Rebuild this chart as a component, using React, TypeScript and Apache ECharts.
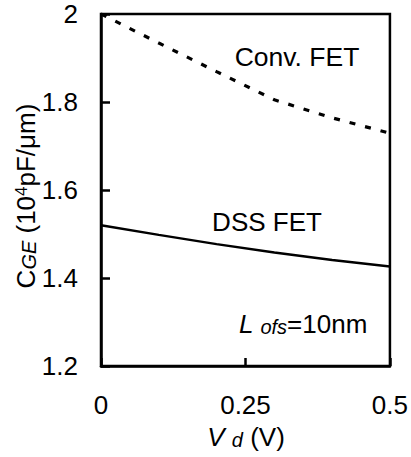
import React, { useEffect, useRef } from "react";
import * as echarts from "echarts";

const vd = [0, 0.1, 0.2, 0.3, 0.4, 0.5];
const convFet = [2.0, 1.934, 1.869, 1.805, 1.764, 1.729];
const dssFet = [1.52, 1.498, 1.477, 1.458, 1.441, 1.426];
const xTicks = [0, 0.25, 0.5];
const yTicks = [1.2, 1.4, 1.6, 1.8, 2];

const FONT = "'Liberation Sans', Arial, Helvetica, sans-serif";

export default function App() {
  const ref = useRef<HTMLDivElement>(null);
  useEffect(() => {
    if (!ref.current) return;
    const chart = echarts.init(ref.current, undefined, { renderer: "svg" });
    const fmt = (v: number) => String(v);
    chart.setOption({
      animation: false,
      backgroundColor: "#fff",
      textStyle: { fontFamily: FONT },
      grid: {
        left: 101,
        top: 14,
        width: 291,
        height: 352,
        show: true,
        borderColor: "#000",
        borderWidth: 2.5,
        backgroundColor: "transparent",
      },
      xAxis: {
        type: "value",
        min: 0,
        max: 0.5,
        interval: 0.25,
        axisLine: { show: true, onZero: false, lineStyle: { color: "#000", width: 2.5 } },
        axisTick: { show: true, inside: true, length: 8, lineStyle: { color: "#000", width: 2.5 } },
        splitLine: { show: false },
        axisLabel: {
          color: "#000",
          fontSize: 26,
          fontFamily: FONT,
          margin: 26,
          formatter: (v: number) => (xTicks.includes(v) ? fmt(v) : ""),
        },
      },
      yAxis: {
        type: "value",
        min: 1.2,
        max: 2,
        interval: 0.2,
        axisLine: { show: true, lineStyle: { color: "#000", width: 2.5 } },
        axisTick: { show: true, inside: true, length: 9, lineStyle: { color: "#000", width: 2.5 } },
        splitLine: { show: false },
        axisLabel: {
          color: "#000",
          fontSize: 26,
          fontFamily: FONT,
          margin: 23,
          formatter: (v: number) => {
            const t = yTicks.find((y) => Math.abs(y - v) < 1e-6);
            return t === undefined ? "" : fmt(t);
          },
        },
      },
      series: [
        {
          name: "Conv. FET",
          type: "line",
          data: vd.map((x, i) => [x, convFet[i]]),
          showSymbol: false,
          lineStyle: { color: "#000", width: 3.2, type: [6, 10], cap: "butt" },
        },
        {
          name: "DSS FET",
          type: "line",
          data: vd.map((x, i) => [x, dssFet[i]]),
          showSymbol: false,
          lineStyle: { color: "#000", width: 2.5, type: "solid" },
        },
      ],
      graphic: [
        {
          type: "text",
          x: 297,
          y: 57,
          style: {
            text: "Conv. FET",
            fill: "#000",
            font: `26.5px ${FONT}`,
            align: "center",
            verticalAlign: "middle",
          },
        },
        {
          type: "text",
          x: 267,
          y: 222,
          style: {
            text: "DSS FET",
            fill: "#000",
            font: `26px ${FONT}`,
            align: "center",
            verticalAlign: "middle",
          },
        },
        {
          type: "text",
          x: 303,
          y: 324,
          style: {
            text: "{l|L }{s|ofs}{n|=10nm}",
            align: "center",
            verticalAlign: "middle",
            rich: {
              l: { fontSize: 26, fontStyle: "italic", fontFamily: FONT, fill: "#000", lineHeight: 26, verticalAlign: "bottom" },
              s: { fontSize: 20, fontStyle: "italic", fontFamily: FONT, fill: "#000", lineHeight: 20, verticalAlign: "bottom" },
              n: { fontSize: 26, fontFamily: FONT, fill: "#000", lineHeight: 26, verticalAlign: "bottom" },
            },
          },
        },
        {
          type: "text",
          x: 246,
          y: 437,
          style: {
            text: "{l|V }{s|d}{n| (V)}",
            align: "center",
            verticalAlign: "middle",
            rich: {
              l: { fontSize: 26, fontStyle: "italic", fontFamily: FONT, fill: "#000", lineHeight: 26, verticalAlign: "bottom" },
              s: { fontSize: 20, fontStyle: "italic", fontFamily: FONT, fill: "#000", lineHeight: 20, verticalAlign: "bottom" },
              n: { fontSize: 26, fontFamily: FONT, fill: "#000", lineHeight: 26, verticalAlign: "bottom" },
            },
          },
        },
        {
          type: "text",
          x: 26,
          y: 196,
          rotation: Math.PI / 2,
          style: {
            text: "{c|C}{s|GE}{n| (10}{p|4}{n|pF/μm)}",
            align: "center",
            verticalAlign: "middle",
            rich: {
              c: { fontSize: 26, fontFamily: FONT, fill: "#000", lineHeight: 26, verticalAlign: "bottom" },
              s: { fontSize: 20, fontStyle: "italic", fontFamily: FONT, fill: "#000", lineHeight: 20, verticalAlign: "bottom" },
              n: { fontSize: 26, fontFamily: FONT, fill: "#000", lineHeight: 26, verticalAlign: "bottom" },
              p: { fontSize: 17, fontFamily: FONT, fill: "#000", lineHeight: 17, verticalAlign: "top" },
            },
          },
        },
      ],
    });
    return () => chart.dispose();
  }, []);
  return <div ref={ref} style={{ width: 411, height: 457, position: "absolute", left: 0, top: 0 }} />;
}
